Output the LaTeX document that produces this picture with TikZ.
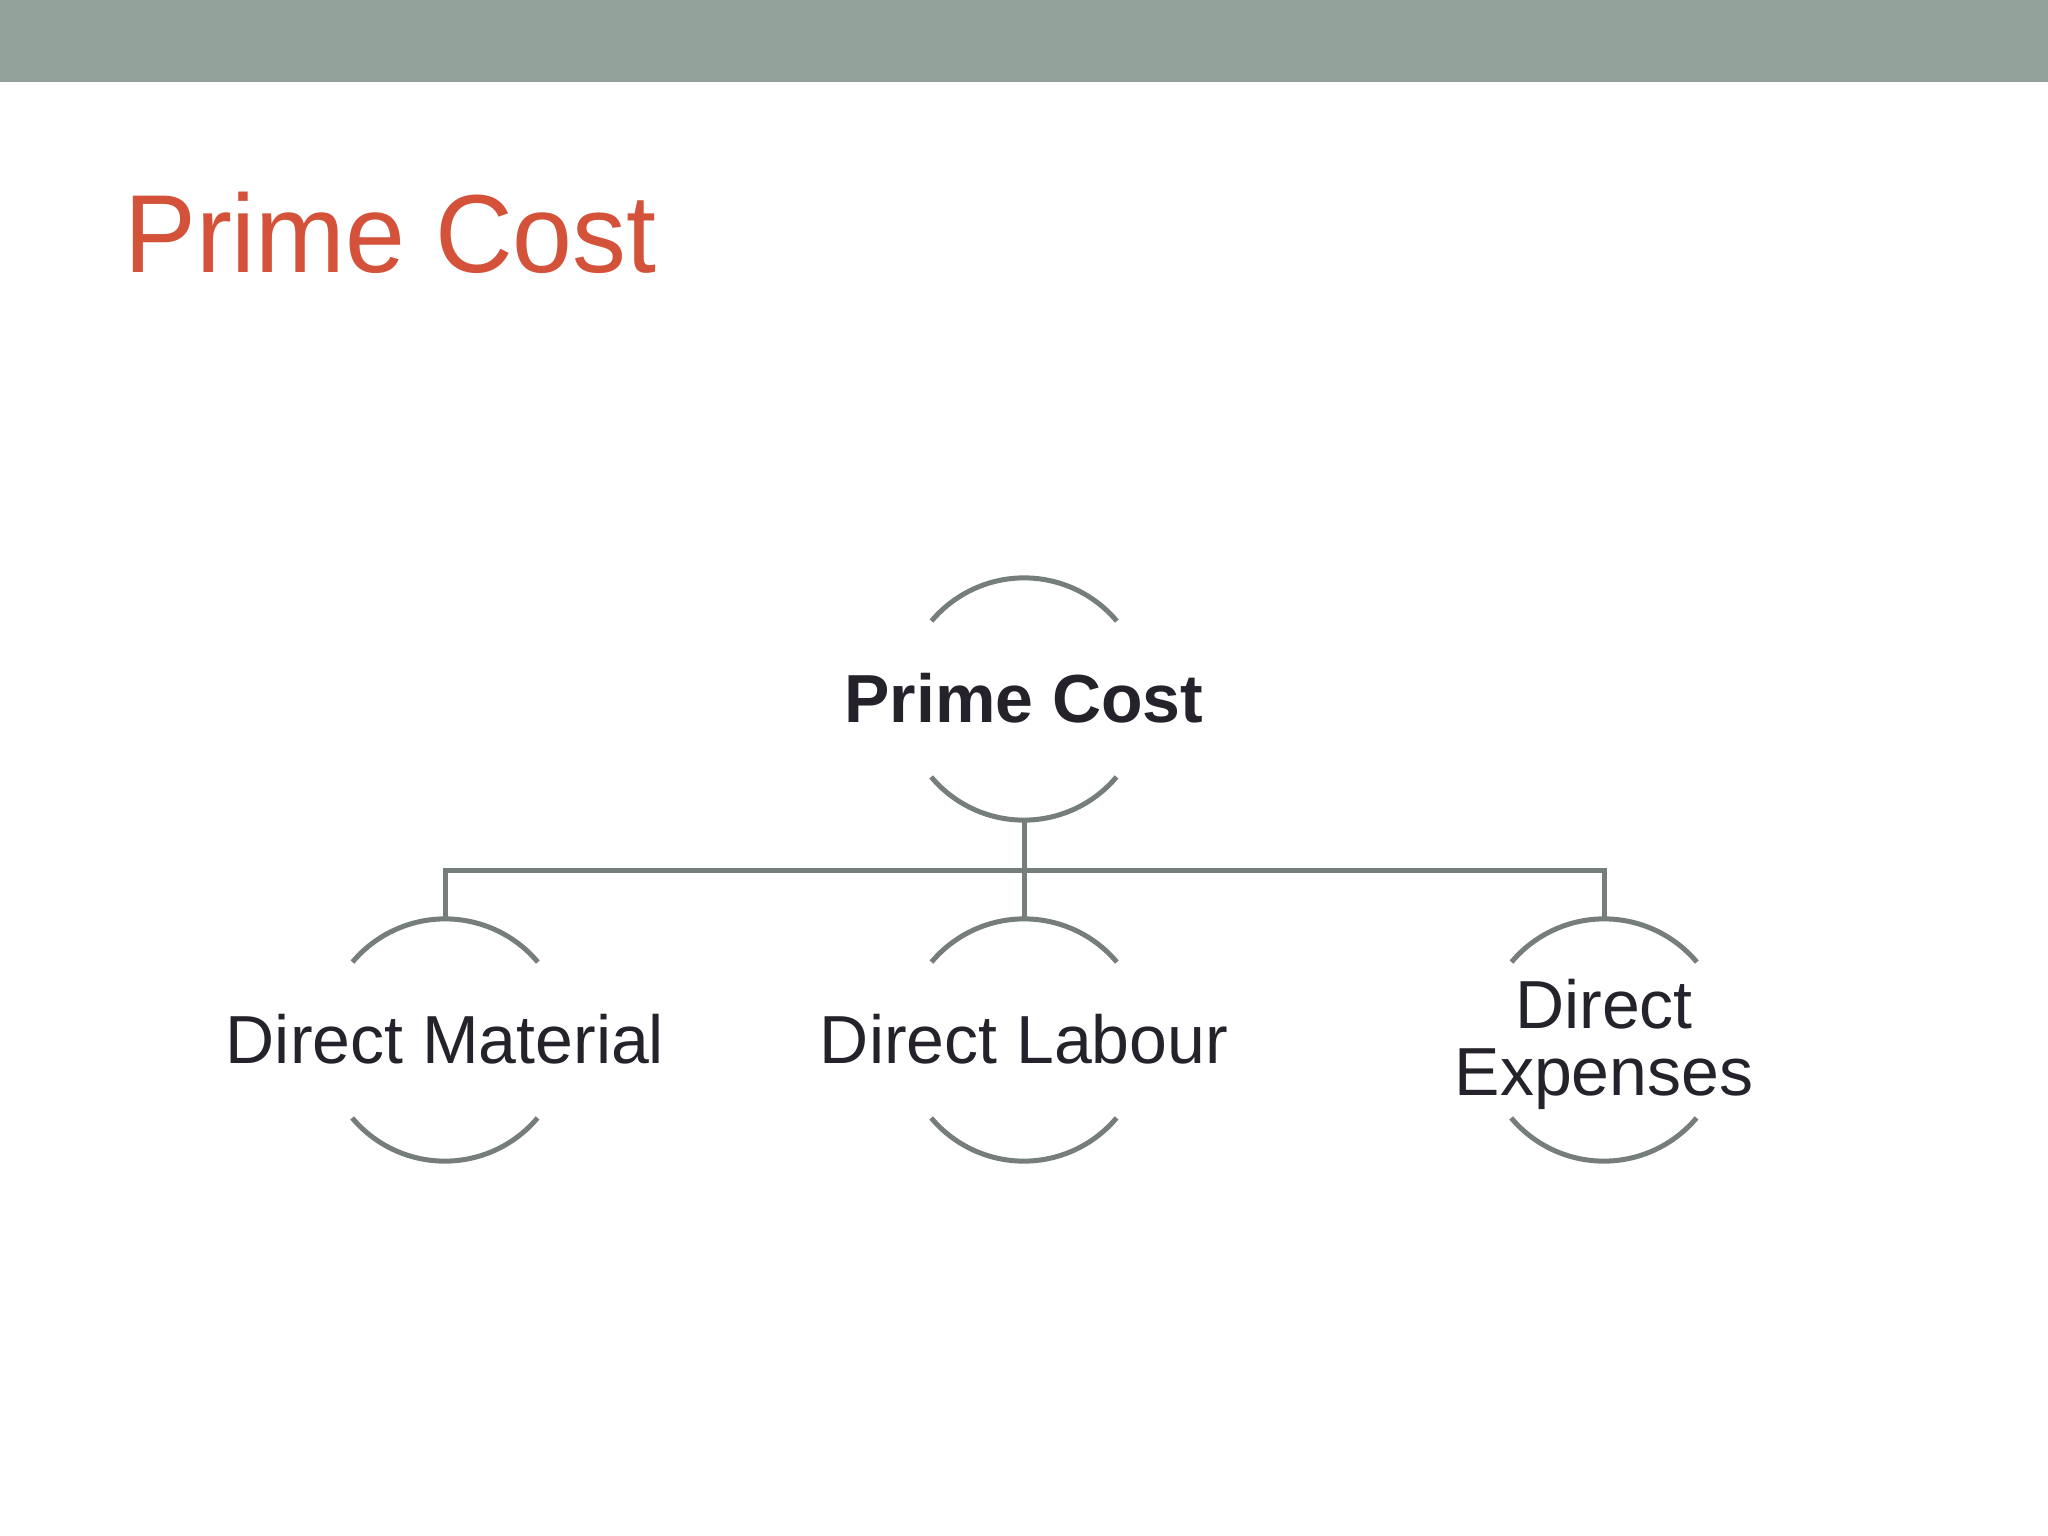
\documentclass[tikz,border=0pt]{standalone}
\usepackage{fontspec}
\setmainfont{Liberation Sans}
\newfontfamily\titlefont{Liberation Sans}[FakeStretch=0.97]
\definecolor{barcol}{HTML}{93A39B}
\definecolor{titlecol}{HTML}{D35239}
\definecolor{txtcol}{HTML}{25222B}
\definecolor{linecol}{HTML}{767E7C}
\tikzset{
  ring/.style={circle, minimum size=242pt, inner sep=0pt},
  arcline/.style={draw=linecol, line width=5pt},
  conn/.style={draw=linecol, line width=5pt},
  lbl/.style={inner sep=0pt, text=txtcol, font=\fontsize{68}{67}\selectfont, align=center, anchor=base},
  headlbl/.style={inner sep=0pt, text=txtcol, font=\fontsize{68}{68}\selectfont\bfseries, anchor=base},
}
\begin{document}
\begin{tikzpicture}[x=1pt,y=1pt]
\useasboundingbox (0,0) rectangle (2048,-1536);
\fill[white] (0,0) rectangle (2048,-1536);
\fill[barcol] (0,0) rectangle (2048,-82);
\node[inner sep=0pt, anchor=base west, text=titlecol, font=\titlefont\fontsize{111}{111}\selectfont] (title) at (124,-272) {Prime Cost};

\node[ring] (pc) at (1024,-699) {};
\node[ring] (dm) at (445,-1040) {};
\node[ring] (dl) at (1024,-1040) {};
\node[ring] (de) at (1604,-1040) {};

\foreach \n in {pc,dm,dl,de}{
  \draw[arcline] (\n.40) arc[start angle=40, end angle=140, radius=121pt];
  \draw[arcline] (\n.220) arc[start angle=220, end angle=320, radius=121pt];
}

\node[headlbl] (pct) at ([yshift=-23pt]pc.center) {Prime Cost};
\node[lbl] (dmt) at ([yshift=-23pt]dm.center) {Direct Material};
\node[lbl] (dlt) at ([yshift=-23pt]dl.center) {Direct Labour};
\node[lbl] (det) at ([yshift=-55pt]de.center) {Direct\\Expenses};

\coordinate (bj) at ([yshift=-50pt]pc.south);
\draw[conn] (pc.south) -- (bj);
\draw[conn] (bj) -- (dl.north);
\draw[conn] (bj) -| (dm.north);
\draw[conn] (bj) -| (de.north);
\end{tikzpicture}
\end{document}
